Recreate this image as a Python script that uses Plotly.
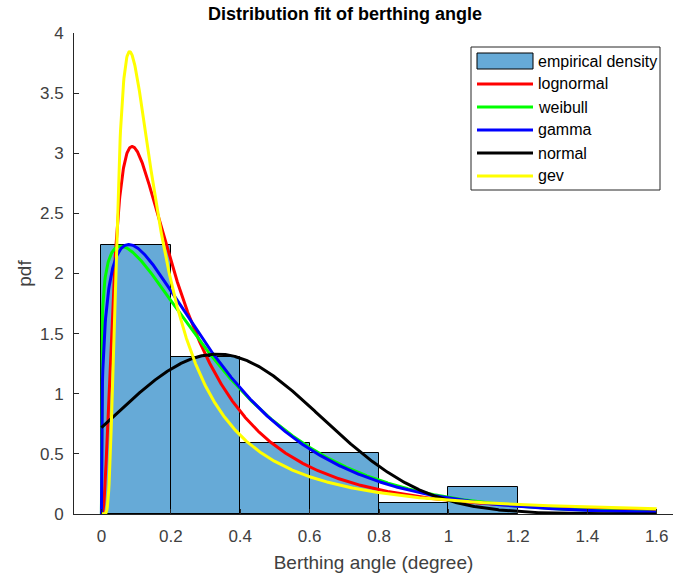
import math
import numpy as np
import plotly.graph_objects as go

# Empirical density of berthing angle (bin width 0.2 degree)
bin_edges = [0.0, 0.2, 0.4, 0.6, 0.8, 1.0, 1.2]
density = [2.237, 1.308, 0.593, 0.510, 0.089, 0.227]

# Fitted distribution parameters
lognormal_mu, lognormal_sigma = -1.533, 0.945
weibull_scale, weibull_shape = 0.350, 1.14
gamma_shape, gamma_scale = 1.31, 0.254
normal_mu, normal_sigma = 0.333, 0.300
gev_k, gev_sigma, gev_mu = 0.8696, 0.1292, 0.1436

series_names = ["lognormal", "weibull", "gamma", "normal", "gev"]
series_colors = ["#ff0000", "#00ff00", "#0000ff", "#000000", "#ffff00"]

x_ticks = [0, 0.2, 0.4, 0.6, 0.8, 1.0, 1.2, 1.4, 1.6]
x_tick_labels = ["0", "0.2", "0.4", "0.6", "0.8", "1", "1.2", "1.4", "1.6"]
y_ticks = [0, 0.5, 1, 1.5, 2, 2.5, 3, 3.5, 4]
y_tick_labels = ["0", "0.5", "1", "1.5", "2", "2.5", "3", "3.5", "4"]


def lognormal_pdf(x, mu, s):
    out = np.zeros_like(x)
    m = x > 0
    out[m] = np.exp(-(np.log(x[m]) - mu) ** 2 / (2 * s * s)) / (x[m] * s * math.sqrt(2 * math.pi))
    return out


def weibull_pdf(x, lam, k):
    z = x / lam
    return (k / lam) * z ** (k - 1) * np.exp(-z ** k)


def gamma_pdf(x, k, theta):
    return x ** (k - 1) * np.exp(-x / theta) / (math.gamma(k) * theta ** k)


def normal_pdf(x, mu, s):
    return np.exp(-(x - mu) ** 2 / (2 * s * s)) / (s * math.sqrt(2 * math.pi))


def gev_pdf(x, k, s, mu):
    z = 1 + k * (x - mu) / s
    out = np.zeros_like(x)
    m = z > 0
    t = z[m] ** (-1 / k)
    out[m] = (1 / s) * z[m] ** (-1 / k - 1) * np.exp(-t)
    return out


xs = np.linspace(0, 1.6, 1601)
curves = [
    lognormal_pdf(xs, lognormal_mu, lognormal_sigma),
    weibull_pdf(xs, weibull_scale, weibull_shape),
    gamma_pdf(xs, gamma_shape, gamma_scale),
    normal_pdf(xs, normal_mu, normal_sigma),
    gev_pdf(xs, gev_k, gev_sigma, gev_mu),
]

centers = [(a + b) / 2 for a, b in zip(bin_edges[:-1], bin_edges[1:])]
widths = [b - a for a, b in zip(bin_edges[:-1], bin_edges[1:])]

fig = go.Figure()
bar_color = "#66aad7"
fig.add_trace(go.Bar(
    x=centers, y=density, width=widths,
    marker=dict(color=bar_color, line=dict(color="#000000", width=1)),
    name="empirical density", showlegend=False,
))
for name, color, ys in zip(series_names, series_colors, curves):
    fig.add_trace(go.Scatter(
        x=xs, y=ys, mode="lines", name=name,
        line=dict(color=color, width=3), showlegend=False,
    ))

axis_color = "#262626"
label_color = "#404040"
font_family = "Liberation Sans, Arial, Helvetica, sans-serif"

fig.update_xaxes(
    range=[-0.079, 1.647], tickvals=x_ticks, ticktext=x_tick_labels,
    ticks="inside", ticklen=5, tickcolor=axis_color, tickwidth=1,
    showline=True, linecolor=axis_color, linewidth=1,
    showgrid=False, zeroline=False,
    tickfont=dict(size=17, color=label_color, family=font_family),
    ticklabelstandoff=7,
    title=dict(text="Berthing angle (degree)", standoff=10,
               font=dict(size=19, color=label_color, family=font_family)),
)
fig.update_yaxes(
    range=[0, 4], tickvals=y_ticks, ticktext=y_tick_labels,
    ticks="inside", ticklen=5, tickcolor=axis_color, tickwidth=1,
    showline=True, linecolor=axis_color, linewidth=1,
    showgrid=False, zeroline=False,
    tickfont=dict(size=17, color=label_color, family=font_family),
    ticklabelstandoff=6,
    title=dict(text="pdf", standoff=3,
               font=dict(size=19, color=label_color, family=font_family)),
)

# Legend box drawn in paper coordinates
W, H = 673, 578
ml, mr, mt, mb = 74, 0, 33, 64
pw, ph = W - ml - mr, H - mt - mb


def px(xp):
    return (xp - ml) / pw


def py(yp):
    return (H - mb - yp) / ph


shapes = [dict(type="rect", xref="paper", yref="paper",
               x0=px(471), x1=px(660), y0=py(190), y1=py(47),
               line=dict(color="#262626", width=1), fillcolor="white", layer="above")]
annotations = []
row_y = [61, 84, 107, 130, 153, 176]
shapes.append(dict(type="rect", xref="paper", yref="paper",
                   x0=px(477), x1=px(533), y0=py(69), y1=py(53),
                   line=dict(color="#000000", width=1), fillcolor=bar_color, layer="above"))
legend_labels = ["empirical density"] + series_names
for i, (label, yy) in enumerate(zip(legend_labels, row_y)):
    if i > 0:
        shapes.append(dict(type="line", xref="paper", yref="paper",
                           x0=px(477), x1=px(533), y0=py(yy), y1=py(yy),
                           line=dict(color=series_colors[i - 1], width=3), layer="above"))
    annotations.append(dict(xref="paper", yref="paper", x=px(536), y=py(yy),
                            xanchor="left", yanchor="middle", showarrow=False,
                            text=label, font=dict(size=16, color="#000000", family=font_family)))

fig.update_layout(
    width=W, height=H,
    margin=dict(l=ml, r=mr, t=mt, b=mb),
    paper_bgcolor="white", plot_bgcolor="white",
    bargap=0,
    showlegend=False,
    shapes=shapes,
    annotations=annotations,
    title=dict(text="<b>Distribution fit of berthing angle</b>",
               x=345 / W, xanchor="center", xref="container",
               y=1 - 14 / H, yanchor="middle", yref="container",
               font=dict(size=18, color="#000000", family=font_family)),
)

fig.write_html("out.html")
